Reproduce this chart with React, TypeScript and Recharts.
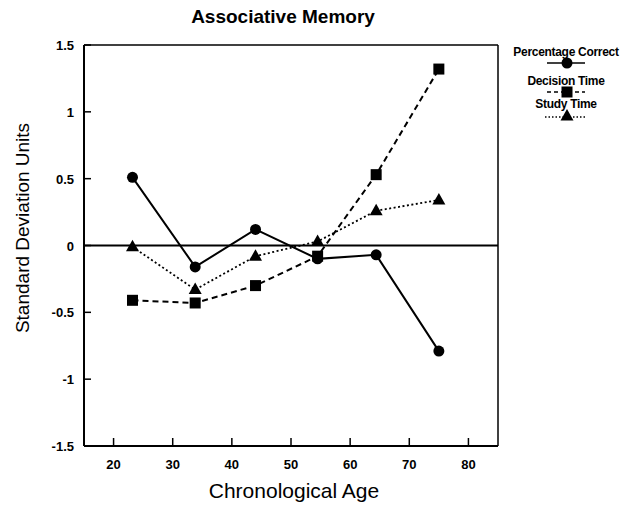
import { LineChart, Line, XAxis, YAxis, ReferenceLine } from "recharts";

const ages = [23.2, 33.8, 44, 54.5, 64.4, 75];
const percentCorrect = [0.51, -0.16, 0.12, -0.1, -0.07, -0.79];
const decisionTime = [-0.41, -0.43, -0.3, -0.08, 0.53, 1.32];
const studyTime = [-0.01, -0.33, -0.08, 0.03, 0.26, 0.34];
const xTicks = [20, 30, 40, 50, 60, 70, 80];
const yTicks = [-1.5, -1, -0.5, 0, 0.5, 1, 1.5];
const seriesNames = ["Percentage Correct", "Decision Time", "Study Time"];

const FONT = "'Liberation Sans', Arial, Helvetica, sans-serif";

const data = ages.map((age, i) => ({
  age,
  pc: percentCorrect[i],
  dt: decisionTime[i],
  st: studyTime[i],
}));

const circle = (cx: number, cy: number, key?: string) => (
  <circle key={key} cx={cx} cy={cy} r={5.5} fill="#000" />
);
const square = (cx: number, cy: number, key?: string) => (
  <rect key={key} x={cx - 5.5} y={cy - 5.5} width={11} height={11} fill="#000" />
);
const triangle = (cx: number, cy: number, key?: string) => (
  <polygon
    key={key}
    points={`${cx},${cy - 7} ${cx + 6.5},${cy + 4.5} ${cx - 6.5},${cy + 4.5}`}
    fill="#000"
  />
);

const XTick = ({ x, y, payload }: any) => (
  <g>
    <line x1={x} x2={x} y1={y} y2={y - 8} stroke="#000" strokeWidth={1.5} />
    <text x={x} y={y + 23} textAnchor="middle" fontSize={13} fontWeight="bold" fontFamily={FONT} fill="#000">
      {payload.value}
    </text>
  </g>
);

const YTick = ({ x, y, payload }: any) => (
  <g>
    <line x1={x} x2={x + 7} y1={y} y2={y} stroke="#000" strokeWidth={1.5} />
    <text x={x - 10} y={y + 5} textAnchor="end" fontSize={13} fontWeight="bold" fontFamily={FONT} fill="#000">
      {payload.value}
    </text>
  </g>
);

export default function App() {
  return (
    <div style={{ position: "absolute", left: 0, top: 0, width: 632, height: 506, background: "#fff" }}>
      <LineChart
        width={632}
        height={506}
        data={data}
        margin={{ top: 45, right: 134, bottom: 10, left: 24 }}
      >
        <XAxis
          dataKey="age"
          type="number"
          domain={[15, 85]}
          ticks={xTicks}
          height={50}
          tickSize={0}
          tickMargin={0}
          tick={<XTick />}
          axisLine={{ stroke: "#000", strokeWidth: 2 }}
          tickLine={false}
        />
        <YAxis
          type="number"
          domain={[-1.5, 1.5]}
          ticks={yTicks}
          width={60}
          tickSize={0}
          tickMargin={0}
          tick={<YTick />}
          axisLine={{ stroke: "#000", strokeWidth: 2 }}
          tickLine={false}
        />
        <ReferenceLine y={1.5} stroke="#000" strokeWidth={1.5} />
        <ReferenceLine x={85} stroke="#000" strokeWidth={1.5} />
        <ReferenceLine y={0} stroke="#000" strokeWidth={2} />
        <Line
          dataKey="pc"
          stroke="#000"
          strokeWidth={2}
          isAnimationActive={false}
          dot={(p: any) => circle(p.cx, p.cy, `pc${p.index}`)}
          activeDot={false}
        />
        <Line
          dataKey="dt"
          stroke="#000"
          strokeWidth={2}
          strokeDasharray="6 4"
          isAnimationActive={false}
          dot={(p: any) => square(p.cx, p.cy, `dt${p.index}`)}
          activeDot={false}
        />
        <Line
          dataKey="st"
          stroke="#000"
          strokeWidth={1.8}
          strokeDasharray="2 2.5"
          isAnimationActive={false}
          dot={(p: any) => triangle(p.cx, p.cy, `st${p.index}`)}
          activeDot={false}
        />
      </LineChart>
      <svg
        width={632}
        height={506}
        style={{ position: "absolute", left: 0, top: 0, pointerEvents: "none" }}
      >
        <text x={283} y={23} textAnchor="middle" fontSize={19} fontWeight="bold" fontFamily={FONT} fill="#000">
          Associative Memory
        </text>
        <text x={294} y={498} textAnchor="middle" fontSize={21} fontFamily={FONT} fill="#000">
          Chronological Age
        </text>
        <text
          x={0}
          y={0}
          transform="translate(29 228) rotate(-90)"
          textAnchor="middle"
          fontSize={19}
          fontFamily={FONT}
          fill="#000"
        >
          Standard Deviation Units
        </text>
        <g fontFamily={FONT} fontSize={12} fontWeight="bold" fill="#000" textAnchor="middle">
          <text x={566} y={56} letterSpacing={-0.3}>{seriesNames[0]}</text>
          <line x1={547} x2={585} y1={63} y2={63} stroke="#000" strokeWidth={1.5} />
          {circle(567, 63)}
          <text x={566} y={85} letterSpacing={-0.3}>{seriesNames[1]}</text>
          <line x1={547} x2={585} y1={92} y2={92} stroke="#000" strokeWidth={1.5} strokeDasharray="4 3" />
          {square(567, 92)}
          <text x={566} y={108} letterSpacing={-0.3}>{seriesNames[2]}</text>
          <line x1={545} x2={585} y1={117} y2={117} stroke="#000" strokeWidth={1.5} strokeDasharray="1.5 2" />
          {triangle(567, 116)}
        </g>
      </svg>
    </div>
  );
}
